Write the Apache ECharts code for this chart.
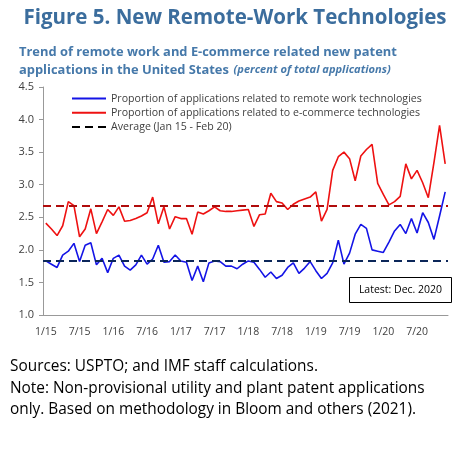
<!DOCTYPE html>
<html>
<head>
    <meta charset="utf-8">
    <script src="https://cdn.jsdelivr.net/npm/echarts@6/dist/echarts.min.js"></script>
    <style>
        html, body { margin: 0; padding: 0; background: #fff; }
    </style>
</head>

<body>
    <div id="main" style="width:470px; height:457px;"></div>
</body>

<script type="text/javascript">

    // monthly categories, Jan 2015 - Dec 2020
    const months = [
        '1/15','2/15','3/15','4/15','5/15','6/15','7/15','8/15','9/15','10/15','11/15','12/15',
        '1/16','2/16','3/16','4/16','5/16','6/16','7/16','8/16','9/16','10/16','11/16','12/16',
        '1/17','2/17','3/17','4/17','5/17','6/17','7/17','8/17','9/17','10/17','11/17','12/17',
        '1/18','2/18','3/18','4/18','5/18','6/18','7/18','8/18','9/18','10/18','11/18','12/18',
        '1/19','2/19','3/19','4/19','5/19','6/19','7/19','8/19','9/19','10/19','11/19','12/19',
        '1/20','2/20','3/20','4/20','5/20','6/20','7/20','8/20','9/20','10/20','11/20','12/20'
    ];

    // percent of total applications
    const remoteWork = [
        1.83, 1.78, 1.73, 1.92, 1.98, 2.10, 1.82, 2.07, 2.11, 1.77, 1.87, 1.65,
        1.87, 1.92, 1.75, 1.69, 1.77, 1.92, 1.78, 1.86, 2.07, 1.81, 1.82, 1.92,
        1.83, 1.81, 1.53, 1.75, 1.51, 1.80, 1.83, 1.82, 1.75, 1.75, 1.71, 1.78,
        1.83, 1.81, 1.70, 1.58, 1.66, 1.56, 1.61, 1.73, 1.80, 1.64, 1.72, 1.82,
        1.68, 1.56, 1.64, 1.80, 2.15, 1.78, 1.95, 2.24, 2.39, 2.33, 2.00, 1.98,
        1.96, 2.12, 2.29, 2.39, 2.25, 2.48, 2.26, 2.57, 2.42, 2.16, 2.52, 2.89
    ];

    const eCommerce = [
        2.41, 2.32, 2.22, 2.37, 2.74, 2.68, 2.20, 2.32, 2.63, 2.25, 2.43, 2.62,
        2.53, 2.66, 2.44, 2.45, 2.48, 2.52, 2.57, 2.81, 2.40, 2.66, 2.32, 2.51,
        2.48, 2.48, 2.24, 2.58, 2.55, 2.60, 2.66, 2.60, 2.59, 2.59, 2.60, 2.61,
        2.62, 2.36, 2.54, 2.55, 2.87, 2.74, 2.72, 2.62, 2.70, 2.75, 2.78, 2.81,
        2.89, 2.44, 2.62, 3.22, 3.43, 3.50, 3.40, 3.06, 3.44, 3.54, 3.62, 3.02,
        2.85, 2.69, 2.74, 2.82, 3.32, 3.09, 3.22, 3.03, 2.80, 3.34, 3.91, 3.32
    ];

    // averages, Jan 15 - Feb 20
    const avgRemoteWork = 1.83;
    const avgECommerce = 2.67;

    const seriesNames = [
        'Proportion of applications related to remote work technologies',
        'Proportion of applications related to e-commerce technologies',
        'Average (Jan 15 - Feb 20)'
    ];

    const font = "'Open Sans', sans-serif";

    const myChart = echarts.init(document.getElementById('main'));

    let option = {
        animation: false,
        textStyle: { fontFamily: font },
        title: [
            {
                text: 'Figure 5. New Remote-Work Technologies',
                left: 'center',
                top: 3,
                textStyle: { fontFamily: font, fontSize: 20.5, fontWeight: 'bold', color: '#3b6d9d' }
            },
            {
                text: '{b|Trend of remote work and E-commerce related new patent}\n' +
                      '{b|applications in the United States} {i|(percent of total applications)}',
                left: 14,
                top: 38,
                textStyle: {
                    rich: {
                        b: { fontFamily: font, fontSize: 12.9, fontWeight: 'bold', color: '#4679aa', lineHeight: 18 },
                        i: { fontFamily: font, fontSize: 11.1, fontStyle: 'italic', color: '#4679aa', lineHeight: 18 }
                    }
                }
            },
            {
                text: 'Sources: USPTO; and IMF staff calculations.\n' +
                      'Note: Non-provisional utility and plant patent applications\n' +
                      'only. Based on methodology in Bloom and others (2021).',
                left: 5,
                top: 351,
                textStyle: { fontFamily: font, fontSize: 15.4, fontWeight: 'normal', color: '#000', lineHeight: 21.5 }
            }
        ],
        legend: {
            orient: 'vertical',
            left: 66,
            top: 88,
            itemWidth: 34,
            itemHeight: 10,
            itemGap: 3.3,
            itemStyle: { opacity: 0 },
            data: seriesNames,
            textStyle: { fontFamily: font, fontSize: 10.6, color: '#404040' }
        },
        grid: { left: 43, right: 22, top: 87, bottom: 142 },
        xAxis: {
            type: 'category',
            data: months,
            boundaryGap: true,
            axisLine: { lineStyle: { color: '#999' } },
            axisTick: { show: false },
            axisLabel: { interval: 5, margin: 12, fontSize: 10.5, color: '#404040', fontFamily: font }
        },
        yAxis: {
            type: 'value',
            min: 1.0,
            max: 4.5,
            interval: 0.5,
            splitLine: { show: false },
            axisLine: { show: true, lineStyle: { color: '#999' } },
            axisTick: { show: true, length: 4, lineStyle: { color: '#999' } },
            axisLabel: {
                margin: 9, fontSize: 11, color: '#404040', fontFamily: font,
                formatter: v => v.toFixed(1)
            }
        },
        series: [
            {
                name: seriesNames[0],
                type: 'line',
                data: remoteWork,
                symbol: 'none',
                color: '#1414e6',
                lineStyle: { width: 1.6 },
                markLine: {
                    silent: true,
                    symbol: 'none',
                    label: { show: false },
                    lineStyle: { color: '#0b2659', type: [8, 5], width: 2 },
                    data: [{ yAxis: avgRemoteWork }]
                }
            },
            {
                name: seriesNames[1],
                type: 'line',
                data: eCommerce,
                symbol: 'none',
                color: '#ee1111',
                lineStyle: { width: 1.6 },
                markLine: {
                    silent: true,
                    symbol: 'none',
                    label: { show: false },
                    lineStyle: { color: '#b00c0c', type: [8, 5], width: 2 },
                    data: [{ yAxis: avgECommerce }]
                }
            },
            {
                name: seriesNames[2],
                type: 'line',
                data: [],
                symbol: 'none',
                color: '#000',
                lineStyle: { width: 2, type: [8, 5] }
            }
        ],
        graphic: [
            {
                type: 'group',
                left: 349,
                top: 277,
                children: [
                    {
                        type: 'rect',
                        shape: { x: 0, y: 0, width: 102, height: 25 },
                        style: { fill: '#fff', stroke: '#000', lineWidth: 1 }
                    },
                    {
                        type: 'text',
                        x: 51,
                        y: 12.5,
                        style: {
                            text: 'Latest: Dec. 2020',
                            fontFamily: font,
                            fontSize: 10.5,
                            fill: '#000',
                            align: 'center',
                            verticalAlign: 'middle'
                        }
                    }
                ]
            }
        ]
    };
    option && myChart.setOption(option);
</script>
</html>
